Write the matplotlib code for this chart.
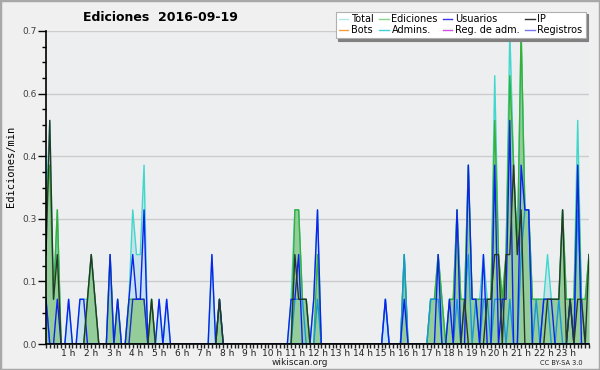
import numpy as np
import matplotlib.pyplot as plt
from matplotlib.lines import Line2D
from matplotlib.patches import Rectangle
from matplotlib.ticker import MultipleLocator, FixedLocator

# 10-minute bins, 0h .. 24h (145 points), edits per minute
total = [
    0.3, 0.5, 0.1, 0.3, 0, 0,          # 0h
    0.1, 0, 0, 0.1, 0.1, 0.1,          # 1h
    0.2, 0.1, 0, 0, 0, 0.2,            # 2h
    0, 0.1, 0, 0, 0.1, 0.3,            # 3h
    0.2, 0.2, 0.4, 0, 0.1, 0,          # 4h
    0.1, 0, 0.1, 0, 0, 0,              # 5h
    0, 0, 0, 0, 0, 0,                  # 6h
    0, 0, 0.2, 0, 0.1, 0,              # 7h
    0, 0, 0, 0, 0, 0,                  # 8h
    0, 0, 0, 0, 0, 0,                  # 9h
    0, 0, 0, 0, 0, 0.1,                # 10h
    0.3, 0.3, 0.1, 0.1, 0, 0.1,        # 11h
    0.3, 0, 0, 0, 0, 0,                # 12h
    0, 0, 0, 0, 0, 0,                  # 13h
    0, 0, 0, 0, 0, 0,                  # 14h
    0.1, 0, 0, 0, 0, 0.2,              # 15h
    0, 0, 0, 0, 0, 0,                  # 16h
    0.1, 0.1, 0.2, 0.1, 0, 0.1,        # 17h
    0.1, 0.3, 0.1, 0.1, 0.4, 0.1,      # 18h
    0.1, 0.1, 0.2, 0.1, 0.1, 0.6,      # 19h
    0.2, 0.1, 0.2, 0.7, 0.4, 0.2,      # 20h
    0.7, 0.3, 0.3, 0.1, 0.1, 0.1,      # 21h
    0.1, 0.2, 0.1, 0.1, 0.1, 0.3,      # 22h
    0.1, 0.1, 0.1, 0.5, 0.1, 0.1,      # 23h
    0.2,
]
ediciones = [
    0.3, 0.4, 0.1, 0.3, 0, 0,
    0, 0, 0, 0, 0, 0.1,
    0.2, 0.1, 0, 0, 0, 0.2,
    0, 0.1, 0, 0, 0.1, 0.1,
    0.1, 0.1, 0.1, 0, 0.1, 0,
    0, 0, 0, 0, 0, 0,
    0, 0, 0, 0, 0, 0,
    0, 0, 0, 0, 0.1, 0,
    0, 0, 0, 0, 0, 0,
    0, 0, 0, 0, 0, 0,
    0, 0, 0, 0, 0, 0,
    0.3, 0.3, 0.1, 0.1, 0, 0,
    0.2, 0, 0, 0, 0, 0,
    0, 0, 0, 0, 0, 0,
    0, 0, 0, 0, 0, 0,
    0, 0, 0, 0, 0, 0.2,
    0, 0, 0, 0, 0, 0,
    0.1, 0.1, 0.2, 0.1, 0, 0.1,
    0.1, 0.3, 0.1, 0.1, 0.4, 0.1,
    0.1, 0.1, 0.1, 0.1, 0.1, 0.5,
    0.2, 0.1, 0.2, 0.6, 0.4, 0.2,
    0.7, 0.3, 0.3, 0.1, 0.1, 0.1,
    0.1, 0.1, 0.1, 0.1, 0.1, 0.3,
    0.1, 0.1, 0.1, 0.4, 0.1, 0.1,
    0.2,
]
usuarios = [
    0.1, 0, 0, 0.1, 0, 0,
    0.1, 0, 0, 0.1, 0.1, 0,
    0, 0, 0, 0, 0, 0.2,
    0, 0.1, 0, 0, 0.1, 0.2,
    0.1, 0.1, 0.3, 0, 0, 0,
    0.1, 0, 0.1, 0, 0, 0,
    0, 0, 0, 0, 0, 0,
    0, 0, 0.2, 0, 0.1, 0,
    0, 0, 0, 0, 0, 0,
    0, 0, 0, 0, 0, 0,
    0, 0, 0, 0, 0, 0.1,
    0.1, 0.2, 0, 0, 0, 0.1,
    0.3, 0, 0, 0, 0, 0,
    0, 0, 0, 0, 0, 0,
    0, 0, 0, 0, 0, 0,
    0.1, 0, 0, 0, 0, 0.1,
    0, 0, 0, 0, 0, 0,
    0, 0, 0.2, 0, 0, 0.1,
    0, 0.3, 0, 0, 0.4, 0.1,
    0.1, 0, 0.2, 0, 0, 0.4,
    0, 0.1, 0.1, 0.5, 0, 0,
    0.4, 0.3, 0.3, 0, 0, 0,
    0.1, 0.1, 0.1, 0, 0, 0,
    0, 0.1, 0, 0.4, 0, 0,
    0,
]
ip = [
    0.2, 0.5, 0.1, 0.2, 0, 0,
    0, 0, 0, 0, 0, 0.1,
    0.2, 0.1, 0, 0, 0, 0,
    0, 0, 0, 0, 0, 0,
    0, 0, 0, 0, 0.1, 0,
    0, 0, 0, 0, 0, 0,
    0, 0, 0, 0, 0, 0,
    0, 0, 0, 0, 0.1, 0,
    0, 0, 0, 0, 0, 0,
    0, 0, 0, 0, 0, 0,
    0, 0, 0, 0, 0, 0,
    0.2, 0.1, 0.1, 0.1, 0, 0,
    0, 0, 0, 0, 0, 0,
    0, 0, 0, 0, 0, 0,
    0, 0, 0, 0, 0, 0,
    0, 0, 0, 0, 0, 0,
    0, 0, 0, 0, 0, 0,
    0, 0, 0, 0, 0, 0,
    0, 0, 0, 0.1, 0, 0,
    0, 0, 0, 0.1, 0.1, 0.2,
    0.2, 0, 0.2, 0.2, 0.4, 0.2,
    0.3, 0, 0, 0, 0, 0,
    0, 0.1, 0.1, 0.1, 0.1, 0.3,
    0, 0.1, 0, 0.1, 0.1, 0,
    0.2,
]
admins = [
    0.1, 0, 0, 0, 0, 0,
    0, 0, 0, 0, 0, 0,
    0, 0, 0, 0, 0, 0,
    0, 0, 0, 0, 0, 0,
    0, 0, 0, 0, 0, 0,
    0, 0, 0, 0, 0, 0,
    0, 0, 0, 0, 0, 0,
    0, 0, 0, 0, 0, 0,
    0, 0, 0, 0, 0, 0,
    0, 0, 0, 0, 0, 0,
    0, 0, 0, 0, 0, 0,
    0.1, 0.1, 0.1, 0, 0, 0,
    0.1, 0, 0, 0, 0, 0,
    0, 0, 0, 0, 0, 0,
    0, 0, 0, 0, 0, 0,
    0.1, 0, 0, 0, 0, 0.2,
    0, 0, 0, 0, 0, 0,
    0.1, 0.1, 0.1, 0, 0, 0,
    0, 0.1, 0, 0.1, 0.2, 0,
    0.1, 0, 0.1, 0.1, 0, 0.1,
    0.1, 0.1, 0, 0.1, 0, 0,
    0.2, 0.3, 0.3, 0, 0.1, 0,
    0.1, 0.1, 0, 0, 0.1, 0,
    0, 0.1, 0, 0.3, 0.1, 0,
    0,
]
registros = [0.1 if 23 <= i <= 26 else 0 for i in range(145)]

hours = np.arange(145) / 6.0

legend_names = ['Total', 'Bots', 'Ediciones', 'Admins.', 'Usuarios', 'Reg. de adm.', 'IP', 'Registros']
legend_colors = ['#b4e6e6', '#f0a040', '#88d488', '#40d0e0', '#3838e8', '#d050e0', '#303030', '#7878f0']

fig = plt.figure(figsize=(6, 3.7), dpi=100, facecolor='#f0f0f0')
fig.patches.append(Rectangle((0, 0), 1, 1, transform=fig.transFigure, fill=False,
                             edgecolor='#a8a8a8', linewidth=2.5))
ax = fig.add_axes([46/600, 26/370, 543/600, 313/370])
ax.set_facecolor('#edeef0')

ax.fill_between(hours, total, color='#c6e2ea', lw=0)
ax.fill_between(hours, ediciones, color='#8fcb92', alpha=0.9, lw=0)
ax.plot(hours, total, color='#40d8cc', lw=1)
ax.plot(hours, ediciones, color='#38b038', lw=1)
ax.plot(hours, admins, color='#1898d8', lw=1)
ax.plot(hours, registros, color='#2030c0', lw=1)
ax.plot(hours, usuarios, color='#1020f0', lw=1)
ax.plot(hours, ip, color='#283828', lw=1)

ax.set_xlim(0, 24)
ax.set_ylim(0, 0.7)
yt = np.arange(0, 0.71, 0.14)
ax.yaxis.set_major_locator(FixedLocator(yt))
ax.set_yticklabels(['%.1f' % v for v in yt])
ax.yaxis.set_minor_locator(MultipleLocator(0.035))
ax.grid(axis='y', color='#cccccc', lw=1)
ax.set_axisbelow(True)
ax.set_xticks(range(1, 24))
ax.set_xticklabels(['%d h' % h for h in range(1, 24)])
ax.xaxis.set_minor_locator(MultipleLocator(1/6))
ax.tick_params(axis='x', which='both', length=3, width=1, pad=0.5, labelsize=6.5, colors='#202020')
ax.tick_params(axis='y', which='major', length=6, width=1, pad=1, labelsize=6.5, labelcolor='#404040')
ax.tick_params(axis='y', which='minor', length=3, width=1)
for s in ['top', 'right']:
    ax.spines[s].set_visible(False)
ax.spines['left'].set_linewidth(1.2)
ax.spines['bottom'].set_linewidth(1.2)

fig.text(0.268, 0.953, 'Ediciones  2016-09-19', ha='center', va='center', fontsize=9, fontweight='bold')
fig.text(0.018, 0.55, 'Ediciones/min', rotation=90, ha='center', va='center',
         fontsize=7.5, family='DejaVu Sans Mono')
fig.text(0.5, 0.02, 'wikiscan.org', ha='center', va='center', fontsize=6.5, color='#202020')
fig.text(0.935, 0.02, 'CC BY-SA 3.0', ha='center', va='center', fontsize=4.8, color='#202020')

handles = [Line2D([], [], color=c, lw=1) for c in legend_colors]
leg = fig.legend(handles, legend_names, ncol=4, loc='upper right', bbox_to_anchor=(0.984, 0.982),
                 fontsize=7, frameon=True, fancybox=False, shadow={'color': '#808080', 'alpha': 1},
                 handlelength=1.0, handletextpad=0.3, columnspacing=0.5, labelspacing=0.1,
                 borderpad=0.3)
leg.get_frame().set_edgecolor('#b0b0b0')
leg.get_frame().set_linewidth(0.8)

plt.savefig('out.png', dpi=100, facecolor=fig.get_facecolor())
